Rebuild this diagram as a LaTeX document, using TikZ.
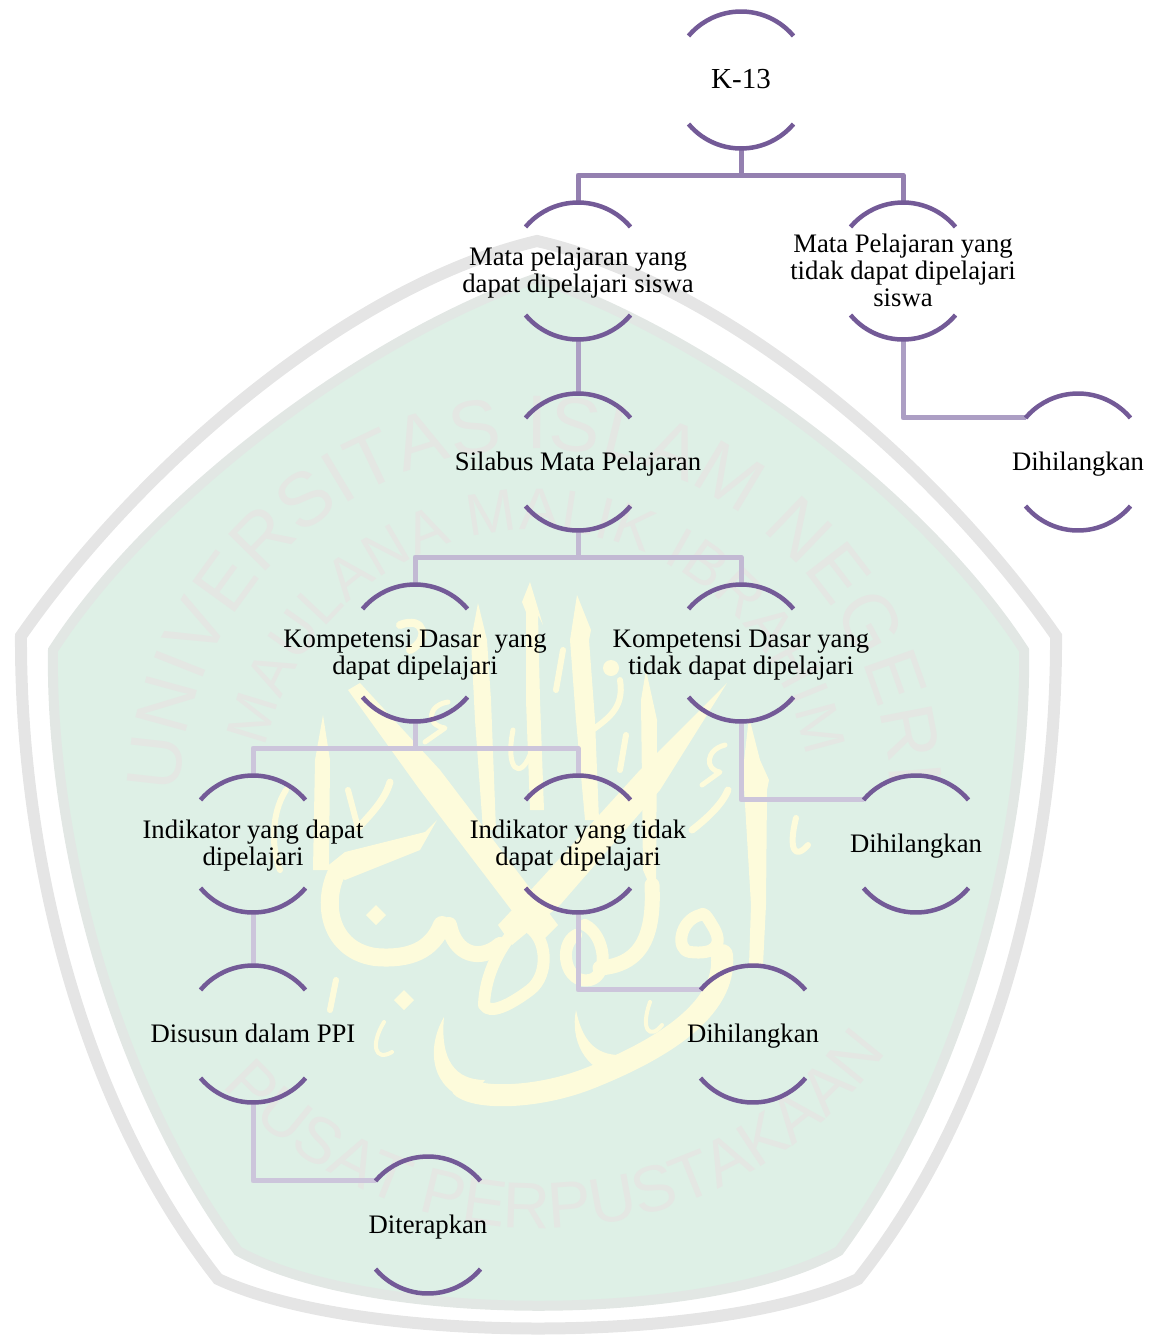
\documentclass[tikz,border=0pt]{standalone}
\usepackage{fontspec}
\setmainfont{Liberation Serif}
\newfontfamily\wmfont{Liberation Sans}
\usetikzlibrary{decorations.text}
\definecolor{arcc}{HTML}{735A97}
\definecolor{conA}{HTML}{9480B0}
\definecolor{conB}{HTML}{AC9EC4}
\definecolor{conC}{HTML}{C2B9D3}
\definecolor{conD}{HTML}{CCC5DB}
\definecolor{band}{HTML}{E5E5E5}
\definecolor{bandin}{HTML}{E2E7E4}
\definecolor{leaf}{HTML}{DEF0E6}
\definecolor{wm}{HTML}{E4E7E3}
\definecolor{cal}{HTML}{FDFBDB}
\newcommand\lab[1]{\makebox[0pt][c]{\smash{\raisebox{-.34em}{\begin{tabular}[c]{@{}c@{}}#1\end{tabular}}}}}
\newcommand\wmA{\fontsize{76}{76}\selectfont\wmfont\color{wm}}
\newcommand\wmB{\fontsize{59}{59}\selectfont\wmfont\color{wm}}
\newcommand\wmC{\fontsize{65}{65}\selectfont\wmfont\color{wm}}
\tikzset{
  x=1pt,y=-1pt,
  bub/.style={circle,minimum size=137pt,inner sep=0pt,outer sep=0pt,font=\fontsize{26.7}{27.2}\selectfont,text=black},
  arcline/.style={draw=arcc,line width=4.5pt,line cap=butt},
  conn/.style={line width=5pt,line join=round},
  calstroke/.style={draw=cal,line cap=round,line join=round},
  calfill/.style={fill=cal,draw=none},
}
\begin{document}
\begin{tikzpicture}
\useasboundingbox (0,0) rectangle (1153,1335);
% watermark shield
\draw[band,line width=12pt,line join=miter]
  (537,241) .. controls (350,285) and (140,465) .. (21,636)
  .. controls (20,830) and (70,1090) .. (218,1279)
  .. controls (360,1345) and (716,1345) .. (858,1279)
  .. controls (1007,1090) and (1057,830) .. (1056,636)
  .. controls (937,465) and (727,285) .. (537,241) -- cycle;
\draw[bandin,fill=leaf,line width=10pt,line join=miter]
  (537,278) .. controls (360,340) and (150,500) .. (53,650)
  .. controls (50,820) and (105,1070) .. (238,1251)
  .. controls (370,1324) and (707,1324) .. (839,1251)
  .. controls (972,1070) and (1027,820) .. (1024,650)
  .. controls (927,500) and (717,340) .. (537,278) -- cycle;
% watermark lettering
\coordinate (wa) at (535,805);
\coordinate (wb) at (540,800);
\path[decorate,decoration={text along path,text align={fit to path},text={|\wmA|UNIVERSITAS ISLAM NEGERI}}]
  ([shift={(178:356pt)}]wa) arc[start angle=178,end angle=3,radius=356pt];
\path[decorate,decoration={text along path,text align={fit to path},text={|\wmB|MAULANA MALIK IBRAHIM}}]
  ([shift={(168:275pt)}]wa) arc[start angle=168,end angle=10,radius=275pt];
\path[decorate,decoration={text along path,text align={fit to path},text={|\wmC|PUSAT PERPUSTAKAAN}}]
  ([shift={(222:428pt)}]wb) arc[start angle=222,end angle=323,radius=428pt];
% calligraphy: tall strokes
\fill[calfill] (530,582) -- (522,602) -- (526,612) -- (526,700) -- (530,810) -- (544,810) -- (540,700) -- (538,615) -- (543,625) -- cycle;
\fill[calfill] (478,603) -- (471,640) -- (475,720) -- (483,830) -- (496,830) -- (491,700) -- (487,640) -- cycle;
\fill[calfill] (577,595) -- (570,640) -- (576,720) -- (585,820) -- (599,820) -- (595,720) -- (589,640) -- (591,630) -- cycle;
\fill[calfill] (323,715) -- (315,760) -- (313,870) -- (329,870) -- (330,760) -- cycle;
\fill[calfill] (749,717) -- (743,770) -- (751,905) -- (749,965) -- (763,965) -- (766,905) -- (767,790) -- (769,780) -- (760,760) -- cycle;
\fill[calfill] (646,670) -- (641,700) -- (643,870) -- (656,900) -- (657,720) -- cycle;
% diagonals
\fill[calfill] (348,690) -- (360,683) -- (440,770) -- (558,925) -- (538,945) -- (420,790) -- cycle;
\fill[calfill] (727,683) -- (660,790) -- (560,905) -- (512,945) -- (498,925) -- (540,880) -- (640,770) -- cycle;
% big ba
\draw[calstroke,line width=18pt] (336,874) .. controls (322,905) and (330,950) .. (375,957) .. controls (410,960) and (432,950) .. (442,925);
\fill[calfill] (437,820) -- (420,850) -- (345,880) -- (325,868) -- (345,852) -- (425,832) -- cycle;
\draw[calstroke,line width=16pt] (449,925) .. controls (455,955) and (480,962) .. (500,945);
% loop in the middle
\draw[calstroke,line width=12pt] (525,925) .. controls (548,935) and (550,975) .. (530,990) .. controls (510,1005) and (490,1015) .. (484,1005) .. controls (485,975) and (500,945) .. (520,925);
% wa rings and lam
\draw[calstroke,line width=12pt] (576,935) .. controls (558,945) and (565,985) .. (590,980) .. controls (610,975) and (605,935) .. (585,925) ;
\draw[calstroke,line width=15pt] (600,968) .. controls (635,965) and (655,945) .. (652,885);
\draw[calstroke,line width=12pt] (700,915) .. controls (680,920) and (675,950) .. (690,952) .. controls (715,955) and (725,945) .. (712,925) .. controls (706,915) and (704,912) .. (700,915);
\draw[calstroke,line width=22pt] (722,955) .. controls (727,1010) and (660,1050) .. (590,1078) .. controls (540,1098) and (480,1100) .. (462,1087);
\fill[calfill] (444,1017) .. controls (425,1050) and (432,1090) .. (470,1100) -- (485,1080) .. controls (455,1080) and (440,1060) .. cycle;
\fill[calfill] (576,1010) .. controls (570,1040) and (585,1070) .. (615,1075) -- (620,1055) .. controls (595,1055) and (582,1040) .. cycle;
% diacritics
\fill[calfill] (376,905) -- (386,915) -- (376,925) -- (366,915) -- cycle;
\fill[calfill] (404,990) -- (414,1000) -- (404,1010) -- (394,1000) -- cycle;
\draw[calstroke,line width=4pt] (384,1022) .. controls (370,1045) and (375,1062) .. (392,1052);
\draw[calstroke,line width=4pt] (650,1002) .. controls (640,1030) and (650,1040) .. (662,1025);
\draw[calstroke,line width=6pt] (336,980) -- (330,1010);
\draw[calstroke,line width=6pt] (563,650) -- (556,690);
\draw[calstroke,line width=6pt] (626,735) -- (620,770);
\draw[calstroke,line width=5pt] (513,730) .. controls (505,770) and (520,780) .. (530,755);
\draw[calstroke,line width=5pt] (448,702) .. controls (428,705) and (425,725) .. (445,728) -- (425,742);
\draw[calstroke,line width=5pt] (725,745) .. controls (705,750) and (705,770) .. (720,772) -- (702,785);
\draw[calstroke,line width=7pt] (390,782) .. controls (385,800) and (370,815) .. (358,828);
\draw[calstroke,line width=6pt] (348,790) -- (358,828);
\draw[calstroke,line width=7pt] (728,790) .. controls (722,805) and (705,820) .. (692,830);
\draw[calstroke,line width=6pt] (796,818) .. controls (788,850) and (795,860) .. (808,845);
\draw[calstroke,line width=6pt] (620,680) .. controls (625,710) and (605,720) .. (590,732);
\fill[calfill] (611,668) circle[radius=8pt];
\draw[calstroke,line width=8pt] (400,625) .. controls (425,615) and (430,640) .. (410,650);
\draw[calstroke,line width=6pt] (286,790) .. controls (270,815) and (272,850) .. (280,870);
% diagram nodes
\node[bub] (k13) at (741,80) {\lab{\fontsize{29}{30}\selectfont K-13}};
\node[bub] (mp1) at (578,271) {\lab{Mata pelajaran yang\\dapat dipelajari siswa}};
\node[bub] (mp2) at (903,271) {\lab{Mata Pelajaran yang\\tidak dapat dipelajari\\siswa}};
\node[bub] (sil) at (578,462) {\lab{Silabus Mata Pelajaran}};
\node[bub] (dh1) at (1078,462) {\lab{Dihilangkan}};
\node[bub] (kd1) at (415,653) {\lab{Kompetensi Dasar\ \ yang\\dapat dipelajari}};
\node[bub] (kd2) at (741,653) {\lab{Kompetensi Dasar yang\\tidak dapat dipelajari}};
\node[bub] (ind1) at (253,844) {\lab{Indikator yang dapat\\dipelajari}};
\node[bub] (ind2) at (578,844) {\lab{Indikator yang tidak\\dapat dipelajari}};
\node[bub] (dh2) at (916,844) {\lab{Dihilangkan}};
\node[bub] (ppi) at (253,1034) {\lab{Disusun dalam PPI}};
\node[bub] (dh3) at (753,1034) {\lab{Dihilangkan}};
\node[bub] (ter) at (428,1225) {\lab{Diterapkan}};
% connectors
\coordinate (j1) at (741,175);
\coordinate (j2) at (578,557);
\coordinate (j3) at (415,748);
\draw[conn,conA] (k13.south) -- (j1);
\draw[conn,conA] (mp1.north) |- (j1) -| (mp2.north);
\draw[conn,conB] (mp1.south) -- (sil.north);
\draw[conn,conB] (mp2.south) |- (dh1.140);
\draw[conn,conC] (sil.south) -- (j2);
\draw[conn,conC] (kd1.north) |- (j2) -| (kd2.north);
\draw[conn,conD] (kd1.south) -- (j3);
\draw[conn,conD] (ind1.north) |- (j3) -| (ind2.north);
\draw[conn,conD] (kd2.south) |- (dh2.140);
\draw[conn,conD] (ind1.south) -- (ppi.north);
\draw[conn,conD] (ind2.south) |- (dh3.140);
\draw[conn,conD] (ppi.south) |- (ter.140);
% bubble arcs
\foreach \n in {k13,mp1,mp2,sil,dh1,kd1,kd2,ind1,ind2,dh2,ppi,dh3,ter}{
  \draw[arcline] (\n.40) arc[start angle=40,end angle=140,radius=68.5pt];
  \draw[arcline] (\n.220) arc[start angle=220,end angle=320,radius=68.5pt];
}
\end{tikzpicture}
\end{document}
